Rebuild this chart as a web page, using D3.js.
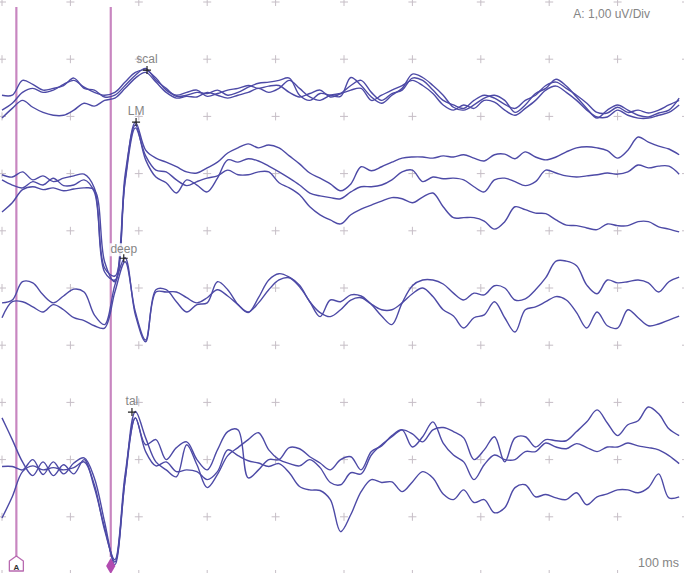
<!DOCTYPE html>
<html>
<head>
<meta charset="utf-8">
<style>
  body { margin: 0; background: #fff; }
  .cross { stroke: #c6bec6; stroke-width: 1; }
  .trace { fill: none; stroke: #4d4aa6; stroke-width: 1.4; stroke-linejoin: round; }
  .cursor { stroke: #c886c0; stroke-width: 2.2; }
  .lbl { font-family: "Liberation Sans", Arial, sans-serif; font-size: 12px; fill: #858585; }
  .mark { stroke: #222; stroke-width: 1.2; }
</style>
</head>
<body>
<svg id="chart" width="684" height="573"></svg>
<script src="https://d3js.org/d3.v7.min.js"></script>
<script>
// sweep: 100 ms over 10 divisions, 1.00 uV per division
var sampleMs = 1.5;
var channels = ["scal", "LM", "deep", "tal"];
var baselines = [1.63, 3.11, 5.12, 8.09];      // zero line of each channel, in divisions from top
var markerLat = [21.2, 19.6, 17.8, 19.0];       // ms
var markerAmp = [0.44, 1.01, 0.64, 0.92];       // uV
var cursorTimes = [2.1, 15.9];                  // ms

// traces in uV, one sample every 1.5 ms
var scal1 = [0,0,0.26,0.19,0.09,0.12,0.17,0.30,0.12,0.09, -0.03,0,0.17,0.35,0.47,0.26,0.12,-0.02,0,0.05,
  0.03,0.09,0,0.05,0.14,0.21,0.23,0.26,0.30,0, -0.09,0.03,0,-0.02,0.31,0.17,-0.03,-0.14,0,0.12,
  0.37,0.31,0.17,0,-0.21,-0.26,-0.17,-0.05,0,-0.09, -0.30,-0.17,0.03,0.12,0.28,0.16,-0.03,-0.23,-0.40,-0.26,
  -0.17,-0.26,-0.35,-0.38,-0.31,-0.26,-0.05];
var scal2 = [-0.26,-0.14,0.05,0.12,0.05,0.09,0.19,0.26,0.14,0.05, 0,0.05,0.23,0.40,0.44,0.30,0.09,0,0.05,0.09,
  -0.02,0.03,0.09,0.12,0.17,0.12,0.16,0.17,0.05,-0.03, 0.03,0.09,-0.03,0.03,0.17,0.26,0.05,-0.09,0.03,0.09,
  0.30,0.26,0.09,-0.09,-0.17,-0.23,-0.09,0,-0.05,-0.16, -0.23,-0.09,0,0.17,0.23,0.12,0,-0.14,-0.30,-0.31,
  -0.21,-0.30,-0.26,-0.31,-0.26,-0.17,-0.09];
var scal3 = [-0.40,-0.23,-0.09,-0.21,-0.30,-0.35,-0.35,-0.26,-0.14,-0.19, -0.09,-0.05,0.12,0.30,0.40,0.23,0.05,-0.05,-0.02,-0.03,
  0.05,0,-0.05,0,0.05,0.12,0.05,0.12,0.26,0.12, -0.03,-0.09,0,0.03,0.09,0.12,-0.09,0,0.09,0.17,
  0.26,0.17,0.03,-0.17,-0.26,-0.17,-0.23,-0.09,-0.12,-0.26, -0.35,-0.23,-0.09,0.09,0.16,0.05,-0.09,-0.26,-0.38,-0.38,
  -0.26,-0.35,-0.40,-0.40,-0.35,-0.30,-0.17];

var lm1 = [0.09,0.05,0.14,0,0.07,-0.03,0.03,0.07,0.10,-0.14, -1.54,-1.68,0,1.01,0.52,0.38,0.31,0.23,0.14,0.12,
  0.21,0.31,0.47,0.56,0.63,0.56,0.61,0.56,0.42,0.28, 0.12,0.03,-0.07,-0.19,-0.07,0.23,0.16,0.23,0.31,0.38,
  0.40,0.40,0.38,0.42,0.40,0.44,0.38,0.33,0.44,0.45, 0.37,0.49,0.40,0.35,0.40,0.49,0.56,0.58,0.56,0.51,
  0.38,0.52,0.75,0.66,0.59,0.54,0.44];
var lm2 = [0,-0.09,-0.14,-0.03,-0.09,0.03,-0.10,-0.09,0,-0.21, -1.61,-1.75,0.09,0.96,0.35,0.05,-0.05,-0.23,0,-0.09,
  -0.21,0.03,0.35,0.31,0.37,0.33,0.24,0.14,0.03,-0.09, -0.23,-0.28,-0.31,-0.33,-0.21,-0.12,-0.12,-0.09,0,0.14,
  0.17,-0.03,0.05,0.02,0.03,0,-0.12,-0.21,0,0.03, -0.03,-0.10,-0.03,0.17,0.12,0.07,0.05,0.07,0.09,0.12,
  0.10,0.14,0.26,0.21,0.24,0.24,0.10];
var lm3 = [-0.56,-0.40,-0.17,-0.12,-0.17,-0.14,-0.19,-0.16,-0.14,-0.17, -1.43,-1.78,-0.03,0.91,0.42,0.17,0.14,0,-0.10,-0.03,
  0.03,0.07,0.17,0.09,0.09,0.14,0.14,-0.05,-0.14,-0.26, -0.47,-0.61,-0.70,-0.77,-0.61,-0.51,-0.44,-0.37,-0.31,-0.33,
  -0.40,-0.30,-0.23,-0.47,-0.66,-0.66,-0.66,-0.72,-0.86,-0.73, -0.47,-0.52,-0.58,-0.59,-0.70,-0.79,-0.80,-0.84,-0.87,-0.77,
  -0.80,-0.80,-0.73,-0.73,-0.82,-0.86,-0.91];

var deep1 = [-0.14,-0.09,0.23,0.21,0,-0.14,-0.02,0.10,0.05,-0.35, -0.52,0.17,0.65,-0.35,-0.82,0.09,0.09,-0.12,-0.30,-0.17,
  -0.14,0.23,0.09,-0.17,-0.31,-0.05,0.26,0.37,0.31,0.17, -0.12,-0.31,-0.38,-0.26,-0.09,-0.05,-0.17,-0.37,-0.52,-0.14,
  0.16,0.26,0.26,0.19,0.03,-0.09,0.03,0,0.16,0.12, -0.09,-0.07,0.09,0.30,0.59,0.59,0.51,0.17,0.02,0.26,
  0.21,0.23,0.26,0.21,0.05,0.23,0.31];
var deep2 = [-0.40,-0.12,-0.12,-0.21,-0.30,-0.17,-0.26,-0.40,-0.45,-0.54, -0.58,0.05,0.58,-0.30,-0.79,0.05,0.05,0.05,-0.05,-0.14,
  -0.05,0.09,-0.02,-0.17,-0.30,-0.14,0.09,0.26,0.30,0.14, -0.12,-0.38,-0.09,-0.12,0,-0.02,-0.16,-0.26,-0.26,-0.14,
  0.02,0.12,-0.03,-0.26,-0.37,-0.58,-0.40,-0.35,-0.12,-0.40, -0.65,-0.26,-0.21,-0.12,-0.03,-0.09,-0.31,-0.58,-0.30,-0.54,
  -0.58,-0.26,-0.40,-0.54,-0.51,-0.44,-0.37];

var tal1 = [0.82,0.44,0.05,-0.19,0.05,-0.19,0,-0.16,0.09,-0.40, -1.10,-1.70,-0.26,0.82,0.35,0.44,0.09,0.30,0.40,0.09,
  -0.09,0.26,0.58,0.61,-0.23,-0.09,0.09,0.09,0.30,0.28, 0.14,0.03,-0.09,0.09,0.14,-0.09,0.23,0.33,0.51,0.61,
  0.31,0.49,0.75,0.38,0.17,0.05,-0.26,0,0.17,0.09, 0.09,0.23,0.23,0.38,0.31,0.28,0.37,0.30,0.23,0.31,
  0.31,0.38,0.33,0.30,0.26,0.16,0.02];
var tal2 = [-0.03,-0.03,-0.09,0.09,-0.17,0.05,-0.16,0.03,0.12,-0.23, -1.00,-1.75,-0.26,0.93,0.47,0.05,-0.09,-0.21,0.35,0,
  -0.40,-0.17,0.16,0.30,0.44,0.56,0.26,0.09,0.02,-0.02, 0.09,-0.05,-0.31,-0.35,-0.14,-0.16,0.17,0.35,0.49,0.61,
  0.54,0.40,0.61,0.65,0.58,0.47,0.09,0.26,0.49,0.05, 0.47,0.49,0.31,0.44,0.42,0.42,0.58,0.75,0.96,0.73,
  0.51,0.70,0.77,1.01,0.89,0.63,0.51];
var tal3 = [-0.93,-0.56,-0.12,-0.02,-0.09,-0.05,-0.09,-0.05,0.05,-0.35, -1.14,-1.66,-0.17,0.82,0.23,-0.02,0.05,-0.12,-0.09,-0.12,
  -0.26,-0.12,0.26,0.16,0.07,0.03,-0.03,0.02,-0.14,-0.38, -0.44,-0.45,-0.61,-1.17,-0.87,-0.47,-0.26,-0.31,-0.30,-0.47,
  -0.30,-0.12,-0.23,-0.51,-0.61,-0.44,-0.66,-0.61,-0.84,-0.75, -0.40,-0.35,-0.56,-0.52,-0.58,-0.61,-0.49,-0.70,-0.56,-0.51,
  -0.44,-0.44,-0.49,-0.40,-0.16,-0.58,-0.56];

var traces = [[scal1, scal2, scal3], [lm1, lm2, lm3], [deep1, deep2], [tal1, tal2, tal3]];

var svg = d3.select("#chart");

var x = d3.scaleLinear().domain([0, 100]).range([2, 686]);
var y = d3.scaleLinear().domain([0, 10]).range([2, 574]);

// grid crosses at every division
var crosses = [];
d3.range(0, 101, 10).forEach(function(t) {
  d3.range(0, 11).forEach(function(d) { crosses.push([t, d]); });
});
svg.append("g").selectAll("path")
  .data(crosses)
  .enter().append("path")
    .attr("class", "cross")
    .attr("d", function(c) {
      var cx = x(c[0]), cy = y(c[1]);
      return "M" + (cx - 4) + "," + cy + "H" + (cx + 4) + "M" + cx + "," + (cy - 4) + "V" + (cy + 4);
    });

// cursors
svg.append("g").selectAll("line")
  .data(cursorTimes)
  .enter().append("line")
    .attr("class", "cursor")
    .attr("x1", function(d) { return x(d); })
    .attr("x2", function(d) { return x(d); })
    .attr("y1", 7)
    .attr("y2", 557);

// waveforms
var line = d3.line()
  .x(function(d, i) { return x(i * sampleMs); })
  .curve(d3.curveCatmullRom.alpha(0.5));

traces.forEach(function(group, c) {
  line.y(function(d) { return y(baselines[c] - d); });
  svg.append("g").selectAll("path")
    .data(group)
    .enter().append("path")
      .attr("class", "trace")
      .attr("d", line);
});

// peak labels and markers
channels.forEach(function(name, c) {
  var mx = x(markerLat[c]), my = y(baselines[c] - markerAmp[c]);
  var g = svg.append("g");
  var t = g.append("text")
    .attr("class", "lbl")
    .attr("x", mx)
    .attr("y", my - (name == "deep" ? 5 : 7))
    .attr("text-anchor", "middle")
    .text(name);
  if (name == "deep") {
    var bb = t.node().getBBox();
    g.insert("rect", "text")
      .attr("x", bb.x - 1).attr("y", bb.y + 1)
      .attr("width", bb.width + 2).attr("height", bb.height - 1)
      .attr("fill", "#fff").attr("opacity", 0.85);
  }
  g.append("path")
    .attr("class", "mark")
    .attr("d", "M" + (mx - 4) + "," + my + "H" + (mx + 4) + "M" + mx + "," + (my - 4) + "V" + (my + 4));
});

// cursor handles
var ax = x(cursorTimes[0]);
svg.append("path")
  .attr("d", "M" + ax + ",556 L" + (ax + 7) + ",561 L" + (ax + 7) + ",571 L" + (ax - 7) + ",571 L" + (ax - 7) + ",561 Z")
  .attr("fill", "#fff")
  .attr("stroke", "#b86ab0")
  .attr("stroke-width", 1.3)
  .attr("stroke-linejoin", "round");
svg.append("text")
  .attr("x", ax).attr("y", 569.5)
  .attr("text-anchor", "middle")
  .attr("font-family", "Liberation Sans, Arial, sans-serif")
  .attr("font-size", 8)
  .attr("font-weight", "bold")
  .attr("fill", "#333")
  .text("A");

svg.append("path")
  .attr("transform", "translate(" + x(cursorTimes[1]) + ",566)")
  .attr("d", d3.symbol(d3.symbolDiamond, 75))
  .attr("fill", "#b24cb0");

// scale texts
svg.append("text")
  .attr("class", "lbl")
  .attr("x", 650).attr("y", 18)
  .attr("text-anchor", "end")
  .attr("font-size", 12)
  .text("A: 1,00 uV/Div");

svg.append("text")
  .attr("class", "lbl")
  .attr("x", 679).attr("y", 567)
  .attr("text-anchor", "end")
  .style("font-size", "12.5px")
  .text("100 ms");
</script>
</body>
</html>
